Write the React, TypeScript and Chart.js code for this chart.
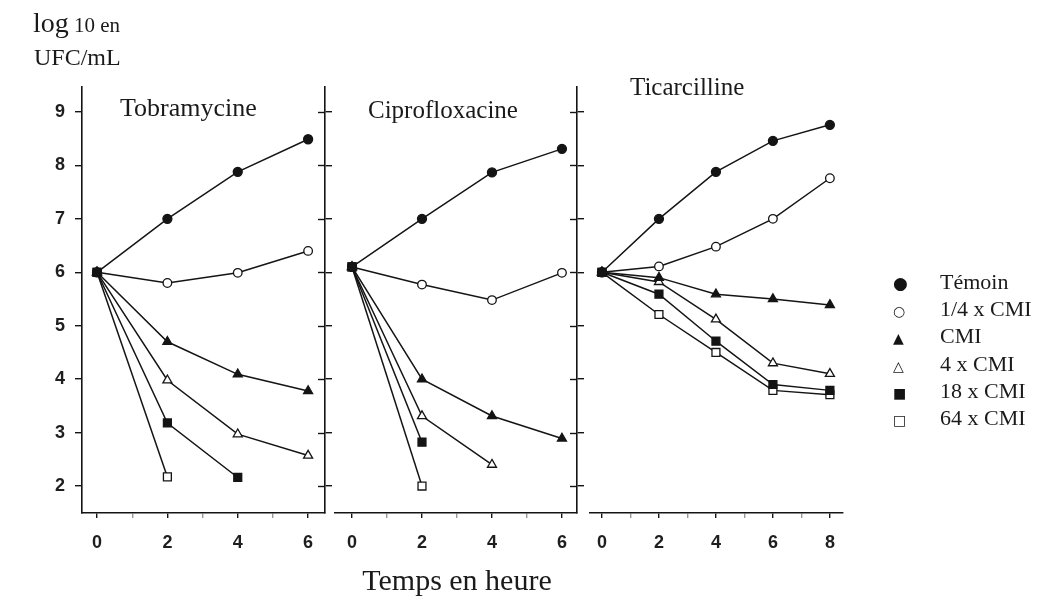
import React, { useEffect, useRef } from "react";
import { Chart, registerables } from "chart.js";

Chart.register(...registerables);

// ---------- data ----------
const seriesLabels = ["Témoin", "1/4 x CMI", "CMI", "4 x CMI", "18 x CMI", "64 x CMI"];
const legendSymbols = ["●", "○", "▲", "△", "■", "□"];

const hoursSix = [0, 2, 4, 6];
const hoursEight = [0, 2, 4, 6, 8];
const xTicksSix = [0, 1, 2, 3, 4, 5, 6];
const xTicksEight = [0, 1, 2, 3, 4, 5, 6, 7, 8];
const yTicks = [2, 3, 4, 5, 6, 7, 8, 9];
const yRange = [1.495, 9.468];

// Tobramycine
const tobraTemoin = [6.0, 7.0, 7.88, 8.49];
const tobraQuartCMI = [6.0, 5.8, 5.99, 6.4];
const tobraCMI = [6.0, 4.7, 4.09, 3.78];
const tobra4CMI = [6.0, 3.98, 2.97, 2.57];
const tobra18CMI = [6.0, 3.18, 2.16];
const tobra64CMI = [6.0, 2.17];

// Ciprofloxacine
const ciproTemoin = [6.1, 7.0, 7.87, 8.31];
const ciproQuartCMI = [6.1, 5.77, 5.48, 5.99];
const ciproCMI = [6.1, 4.0, 3.31, 2.89];
const cipro4CMI = [6.1, 3.31, 2.4];
const cipro18CMI = [6.1, 2.82];
const cipro64CMI = [6.1, 2.0];

// Ticarcilline
const ticarTemoin = [6.0, 7.0, 7.88, 8.46, 8.76];
const ticarQuartCMI = [6.0, 6.11, 6.48, 7.0, 7.76];
const ticarCMI = [6.0, 5.9, 5.59, 5.5, 5.39];
const ticar4CMI = [6.0, 5.82, 5.12, 4.3, 4.1];
const ticar18CMI = [6.0, 5.59, 4.71, 3.9, 3.79];
const ticar64CMI = [6.0, 5.21, 4.5, 3.79, 3.71];

// ---------- styles ----------
const ink = "#141414";
const serif = '"Liberation Serif", "Times New Roman", Times, serif';
const sans = '"Liberation Sans", Arial, Helvetica, sans-serif';
const markerStyles = ["circle", "circle", "triangle", "triangle", "rect", "rect"];
const markerFilled = [true, false, true, false, true, false];
const markerRadius = [4.5, 4.3, 5.2, 5.2, 5.6, 5.6];
const legendSymbolSize = [17, 14, 14, 14, 14, 14];

function buildDatasets(hours: number[], series: number[][]) {
  return series.map((vals, i) => ({
    label: seriesLabels[i],
    data: vals.map((v, j) => ({ x: hours[j], y: v })),
    borderColor: ink,
    borderWidth: 1.5,
    pointStyle: markerStyles[i],
    pointRadius: markerRadius[i],
    pointBackgroundColor: markerFilled[i] ? ink : "#ffffff",
    pointBorderColor: ink,
    pointBorderWidth: 1.3,
    fill: false,
    tension: 0,
  }));
}

const dividerTicks = {
  id: "dividerTicks",
  afterDraw(chart: any) {
    const s = chart.scales.y2;
    if (!s || !s.options.display) return;
    const ctx = chart.ctx;
    ctx.save();
    ctx.strokeStyle = ink;
    ctx.lineWidth = 1.4;
    const x = s.left;
    s.ticks.forEach((t: any) => {
      const py = Math.round(s.getPixelForValue(t.value)) + 0.5;
      ctx.beginPath();
      ctx.moveTo(x - 7, py);
      ctx.lineTo(x, py);
      ctx.stroke();
    });
    ctx.restore();
  },
};

type PanelCfg = {
  hours: number[];
  series: number[][];
  xMin: number;
  xMax: number;
  xTicks: number[];
  padLeft: number;
  padRight: number;
  showY: boolean;
  divider: boolean;
};

function PanelChart({ cfg }: { cfg: PanelCfg }) {
  const ref = useRef<HTMLCanvasElement | null>(null);
  useEffect(() => {
    if (!ref.current) return;
    const tickFont = { family: sans, size: 18, weight: "bold" as const };
    const chart = new Chart(ref.current, {
      type: "line",
      data: { datasets: buildDatasets(cfg.hours, cfg.series) as any },
      options: {
        responsive: false,
        maintainAspectRatio: false,
        animation: false,
        layout: { padding: { left: cfg.padLeft, right: cfg.padRight, top: 87, bottom: 0 } },
        plugins: { legend: { display: false }, tooltip: { enabled: false } },
        scales: {
          x: {
            type: "linear",
            min: cfg.xMin,
            max: cfg.xMax,
            afterBuildTicks: (s: any) => {
              s.ticks = cfg.xTicks.map((v) => ({ value: v }));
            },
            afterFit: (s: any) => {
              s.height = 88;
            },
            grid: {
              drawOnChartArea: false,
              drawTicks: true,
              tickLength: 5,
              color: (c: any) => (c.tick && c.tick.value % 2 === 0 ? ink : "#9a9a9a"),
              lineWidth: 1.4,
            },
            border: { display: true, color: ink, width: 1.6 },
            ticks: {
              autoSkip: false,
              maxRotation: 0,
              padding: 14,
              color: "#1e1e1e",
              font: tickFont,
              callback: (v: any) => (Number(v) % 2 === 0 ? String(v) : ""),
            },
          },
          y: {
            type: "linear",
            position: "left",
            display: cfg.showY,
            min: yRange[0],
            max: yRange[1],
            afterBuildTicks: (s: any) => {
              s.ticks = yTicks.map((v) => ({ value: v }));
            },
            afterFit: (s: any) => {
              s.width = cfg.showY ? 82 : 0;
            },
            grid: { drawOnChartArea: false, drawTicks: true, tickLength: 7, color: ink, lineWidth: 1.4 },
            border: { display: true, color: ink, width: 1.6 },
            ticks: { padding: 10, color: "#1e1e1e", font: tickFont },
          },
          y2: {
            type: "linear",
            position: "right",
            display: cfg.divider,
            min: yRange[0],
            max: yRange[1],
            afterBuildTicks: (s: any) => {
              s.ticks = yTicks.map((v) => ({ value: v }));
            },
            afterFit: (s: any) => {
              s.width = cfg.divider ? 8 : 0;
            },
            grid: { drawOnChartArea: false, drawTicks: true, tickLength: 7, color: ink, lineWidth: 1.4 },
            border: { display: true, color: ink, width: 1.6 },
            ticks: { display: false },
          },
        },
      },
      plugins: [dividerTicks],
    });
    return () => chart.destroy();
  }, [cfg]);
  return (
    <canvas
      ref={ref}
      width={1039}
      height={601}
      style={{ position: "absolute", left: 0, top: 0, width: 1039, height: 601 }}
    />
  );
}

const panelTobra: PanelCfg = {
  hours: hoursSix,
  series: [tobraTemoin, tobraQuartCMI, tobraCMI, tobra4CMI, tobra18CMI, tobra64CMI],
  xMin: -0.427,
  xMax: 6.48,
  xTicks: xTicksSix,
  padLeft: 0,
  padRight: 706,
  showY: true,
  divider: true,
};
const panelCipro: PanelCfg = {
  hours: hoursSix,
  series: [ciproTemoin, ciproQuartCMI, ciproCMI, cipro4CMI, cipro18CMI, cipro64CMI],
  xMin: -0.486,
  xMax: 6.43,
  xTicks: xTicksSix,
  padLeft: 335,
  padRight: 454,
  showY: false,
  divider: true,
};
const panelTicar: PanelCfg = {
  hours: hoursEight,
  series: [ticarTemoin, ticarQuartCMI, ticarCMI, ticar4CMI, ticar18CMI, ticar64CMI],
  xMin: -0.42,
  xMax: 8.46,
  xTicks: xTicksEight,
  padLeft: 590,
  padRight: 196,
  showY: false,
  divider: false,
};

const textBase: React.CSSProperties = {
  position: "absolute",
  fontFamily: serif,
  color: "#1a1a1a",
  whiteSpace: "nowrap",
  lineHeight: 1,
};

export default function App() {
  return (
    <div
      style={{
        position: "absolute",
        left: 0,
        top: 0,
        width: 1039,
        height: 601,
        background: "#ffffff",
        overflow: "hidden",
      }}
    >
      <PanelChart cfg={panelTobra} />
      <PanelChart cfg={panelCipro} />
      <PanelChart cfg={panelTicar} />

      <div style={{ ...textBase, left: 33, top: 9 }}>
        <span style={{ fontSize: 28 }}>log</span>
        <span style={{ fontSize: 21 }}> 10 en</span>
      </div>
      <div style={{ ...textBase, left: 34, top: 45, fontSize: 24 }}>UFC/mL</div>

      <div style={{ ...textBase, left: 120, top: 95, fontSize: 26 }}>Tobramycine</div>
      <div style={{ ...textBase, left: 368, top: 97, fontSize: 25 }}>Ciprofloxacine</div>
      <div style={{ ...textBase, left: 630, top: 74, fontSize: 25 }}>Ticarcilline</div>

      <div style={{ ...textBase, left: 457, top: 565, fontSize: 30, transform: "translateX(-50%)" }}>
        Temps en heure
      </div>

      {seriesLabels.map((lab, i) => (
        <div key={lab} style={{ ...textBase, left: 893, top: 271 + i * 27.2, fontSize: 22, height: 22 }}>
          <span
            style={{
              display: "inline-block",
              width: 47,
              fontFamily: '"DejaVu Sans", sans-serif',
              fontSize: legendSymbolSize[i],
              color: ink,
            }}
          >
            {legendSymbols[i]}
          </span>
          <span>{lab}</span>
        </div>
      ))}
    </div>
  );
}
